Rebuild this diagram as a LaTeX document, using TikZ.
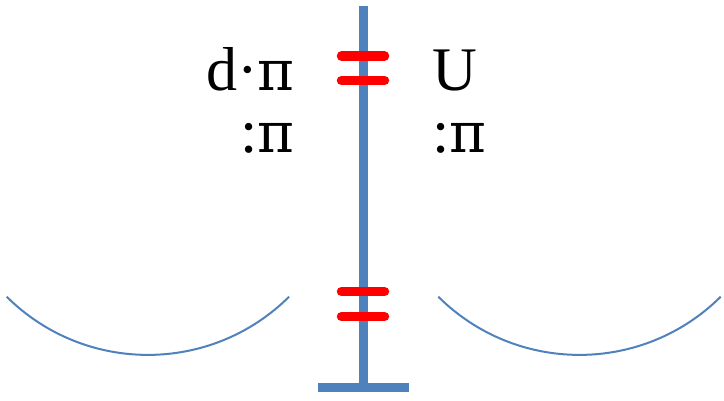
\documentclass[tikz,border=0pt]{standalone}
\usepackage{fontspec}
\setmainfont{Liberation Serif}
\newfontfamily\pifont{DejaVu Serif}
\newcommand{\mypi}{{\pifont\fontsize{56}{70}\selectfont π}}
\definecolor{axisblue}{HTML}{4F81BD}
\definecolor{barred}{HTML}{FF0000}
\begin{document}
\begin{tikzpicture}[x=1pt,y=-1pt,
  stem/.style={axisblue,line width=8.5pt},
  bar/.style={barred,line width=9.5pt,line cap=round},
  bowl/.style={axisblue,line width=2pt},
  lbl/.style={inner sep=0pt,font=\fontsize{62}{70}\selectfont}]
\useasboundingbox (0,0) rectangle (724,400);
% axis
\coordinate (top) at (363.5,6);
\coordinate (bot) at (363.5,387.5);
\draw[stem] (top) -- (bot);
\draw[stem] (318,387.5) -- (409,387.5);
% red bars
\draw[bar] (341.5,56) -- (384.5,56);
\draw[bar] (341.5,80.5) -- (384.5,80.5);
\draw[bar] (341.5,291.5) -- (384.5,291.5);
\draw[bar] (341.5,316.5) -- (384.5,316.5);
% arcs
\draw[bowl] (6.7,296.7) arc[start angle=225.2,end angle=314.8,radius=200.4pt];
\draw[bowl] (438.3,296.7) arc[start angle=225.2,end angle=314.8,radius=200.4pt];
% labels
\node[lbl,anchor=base east] (dpi) at (295,90) {d·\mypi};
\node[lbl,anchor=base west] (u) at (432,90) {U};
\node[lbl,anchor=base east] (lpi) at (295,152) {:\mypi};
\node[lbl,anchor=base west] (rpi) at (432,152) {:\mypi};
\end{tikzpicture}
\end{document}
